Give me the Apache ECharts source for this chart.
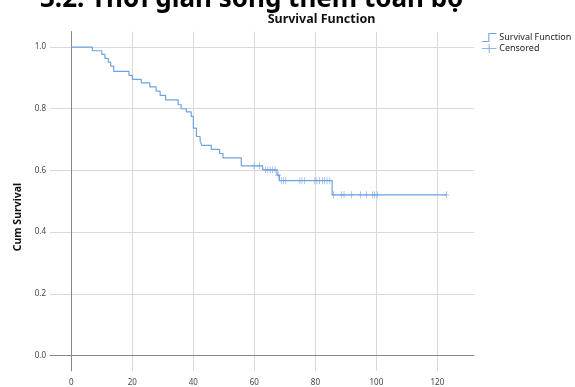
<!DOCTYPE html>
<html>
<head>
<meta charset="utf-8">
<script src="https://cdn.jsdelivr.net/npm/echarts@6/dist/echarts.min.js"></script>
<style>
html,body{margin:0;padding:0;background:#fff;}
#chart{width:575px;height:387px;}
</style>
</head>
<body>
<div id="chart"></div>
<script>
// Kaplan-Meier steps: time and cumulative survival after each event
var stepTimes = [0, 6.9, 10.0, 11.0, 12.1, 12.9, 13.9, 18.9, 20.0, 22.9, 25.7, 27.8, 29.1, 30.9, 35.0, 36.0, 37.7, 39.3, 40.0, 41.0, 42.2, 42.8, 45.9, 48.6, 49.7, 55.7, 62.7, 67.4, 68.2, 85.5, 123.0];
var stepSurvival = [1.0, 0.988, 0.976, 0.963, 0.951, 0.938, 0.921, 0.908, 0.895, 0.884, 0.871, 0.857, 0.843, 0.829, 0.813, 0.800, 0.790, 0.775, 0.737, 0.710, 0.695, 0.681, 0.668, 0.655, 0.641, 0.615, 0.602, 0.585, 0.567, 0.521, 0.521];
// Censored observations
var censorTimes = [59.9, 61.7, 63.7, 64.4, 65.2, 66.0, 66.8, 67.8, 68.9, 69.6, 70.3, 74.9, 75.6, 76.5, 79.8, 80.5, 81.4, 82.3, 83.0, 83.8, 84.7, 86.0, 88.5, 89.4, 91.8, 94.8, 96.7, 98.7, 99.4, 100.3, 123.0];
var censorSurvival = [0.615, 0.615, 0.602, 0.602, 0.602, 0.602, 0.602, 0.585, 0.567, 0.567, 0.567, 0.567, 0.567, 0.567, 0.567, 0.567, 0.567, 0.567, 0.567, 0.567, 0.567, 0.521, 0.521, 0.521, 0.521, 0.521, 0.521, 0.521, 0.521, 0.521, 0.521];
var seriesNames = ['Survival Function', 'Censored'];
var mainTitle = '3.2. Thời gian sống thêm toàn bộ';
var chartTitle = 'Survival Function';
var yAxisTitle = 'Cum Survival';

var lineColor = '#6fa3e0';
var font = 'Noto Sans';
var chart = echarts.init(document.getElementById('chart'));
var stepData = stepTimes.map(function (t, i) { return [t, stepSurvival[i]]; });
var censorData = censorTimes.map(function (t, i) { return [t, censorSurvival[i]]; });
var crossPath = 'path://M4.4,0H5.6V4.4H10V5.6H5.6V10H4.4V5.6H0V4.4H4.4Z';

chart.setOption({
  animation: false,
  backgroundColor: '#fff',
  graphic: [
    { type: 'text', left: 40, top: -13, style: { text: mainTitle, font: 'bold 26px "' + font + '"', fill: '#000' } },
    { type: 'text', x: 18, y: 217, rotation: Math.PI / 2,
      style: { text: yAxisTitle, font: 'bold 10.5px "' + font + '"', fill: '#111', textAlign: 'center', textVerticalAlign: 'middle' } }
  ],
  title: {
    text: chartTitle, left: 316.5, top: 8, textAlign: 'center',
    textStyle: { fontFamily: font, fontWeight: 'bold', fontSize: 12.5, color: '#111' }
  },
  legend: {
    orient: 'vertical', left: 477, top: 28, itemWidth: 16, itemHeight: 9, itemGap: 2,
    textStyle: { fontFamily: font, fontSize: 9, color: '#222', padding: [0, 0, 0, -3] },
    data: [
      { name: seriesNames[0], icon: 'path://M0,9H7V0H16V1.2H8.2V10.2H0Z' },
      { name: seriesNames[1], icon: 'path://M0,4.4H16V5.6H0Z M7.4,0H8.6V10H7.4Z' }
    ]
  },
  grid: { left: 50, right: 101, top: 31.6, bottom: 9, containLabel: false },
  xAxis: {
    type: 'value', min: -7, max: 132, splitNumber: 7,
    axisLine: { show: true, lineStyle: { color: '#888', width: 1 } },
    axisTick: { show: false },
    axisLabel: {
      showMinLabel: false, showMaxLabel: false, margin: 8,
      fontFamily: font, fontSize: 8, color: '#444',
      formatter: function (v) { return (Math.abs(v % 20) < 1e-6) ? String(v) : ''; }
    },
    splitLine: { show: true, showMinLine: false, showMaxLine: false, lineStyle: { color: '#d9d9d9', width: 1 } }
  },
  yAxis: {
    type: 'value', min: -0.05, max: 1.05, splitNumber: 5,
    axisLine: { show: true, lineStyle: { color: '#888', width: 1 } },
    axisTick: { show: false },
    axisLabel: {
      showMinLabel: false, showMaxLabel: false, margin: 4,
      fontFamily: font, fontSize: 8, color: '#444',
      formatter: function (v) { return v.toFixed(1); }
    },
    splitLine: { show: true, showMinLine: false, showMaxLine: false, lineStyle: { color: '#d9d9d9', width: 1 } }
  },
  series: [
    {
      name: seriesNames[0], type: 'line', step: 'end', data: stepData,
      showSymbol: false, symbol: 'none',
      lineStyle: { color: lineColor, width: 1.2 }, itemStyle: { color: lineColor }
    },
    {
      name: seriesNames[1], type: 'scatter', data: censorData,
      symbol: crossPath, symbolSize: [6, 7],
      itemStyle: { color: lineColor }
    }
  ]
});
</script>
</body>
</html>
